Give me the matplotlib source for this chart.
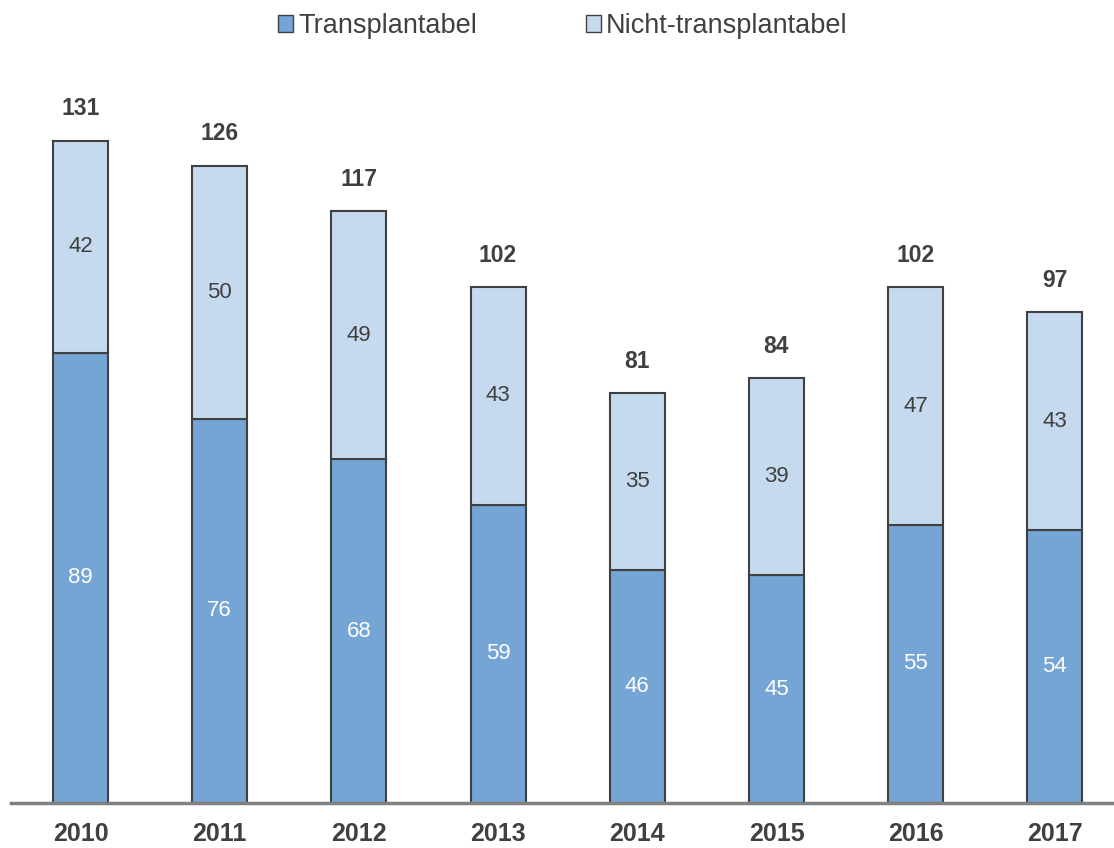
import matplotlib.pyplot as plt
from matplotlib.patches import Patch

plt.rcParams['font.family'] = ['Liberation Sans', 'DejaVu Sans']

years = ['2010', '2011', '2012', '2013', '2014', '2015', '2016', '2017']
transplantabel = [89, 76, 68, 59, 46, 45, 55, 54]
nicht_transplantabel = [42, 50, 49, 43, 35, 39, 47, 43]
totals = [131, 126, 117, 102, 81, 84, 102, 97]

dark = '#74A5D4'
light = '#C6DAEF'
edge = '#404040'
textc = '#404040'

fig = plt.figure(figsize=(11.14, 8.48), dpi=100)
ax = fig.add_axes([11 / 1114, 45 / 848, 1103 / 1114, 708 / 848])

x = list(range(len(years)))
ax.bar(x, transplantabel, width=0.395, color=dark, edgecolor=edge, linewidth=1.5)
ax.bar(x, nicht_transplantabel, width=0.395, bottom=transplantabel,
       color=light, edgecolor=edge, linewidth=1.5)

for i in x:
    ax.text(i, transplantabel[i] / 2, str(transplantabel[i]), ha='center', va='center',
            color='white', fontsize=16)
    ax.text(i, transplantabel[i] + nicht_transplantabel[i] / 2, str(nicht_transplantabel[i]),
            ha='center', va='center', color=textc, fontsize=16)
    ax.text(i, totals[i] + 6.3, str(totals[i]), ha='center', va='center',
            color=textc, fontsize=16.5, fontweight='bold')

ax.set_xlim(-0.499, 7.425)
ax.set_ylim(0, 140)
ax.set_xticks(x)
ax.set_xticklabels(years, fontsize=18, fontweight='bold', color=textc)
ax.tick_params(axis='x', length=0, pad=14)
ax.set_yticks([])
for s in ['top', 'right', 'left']:
    ax.spines[s].set_visible(False)
ax.spines['bottom'].set_color('#808080')
ax.spines['bottom'].set_linewidth(2.5)

handles = [Patch(facecolor=dark, edgecolor=edge, label='Transplantabel'),
           Patch(facecolor=light, edgecolor=edge, label='Nicht-transplantabel')]
fig.legend(handles=handles, loc='center', bbox_to_anchor=(563 / 1114, 1 - 26 / 848),
           ncol=2, frameon=False, fontsize=19.5, handlelength=0.55, handleheight=0.55,
           handletextpad=0.2, columnspacing=4.0, labelcolor=textc)

fig.savefig('out.png', dpi=100)
